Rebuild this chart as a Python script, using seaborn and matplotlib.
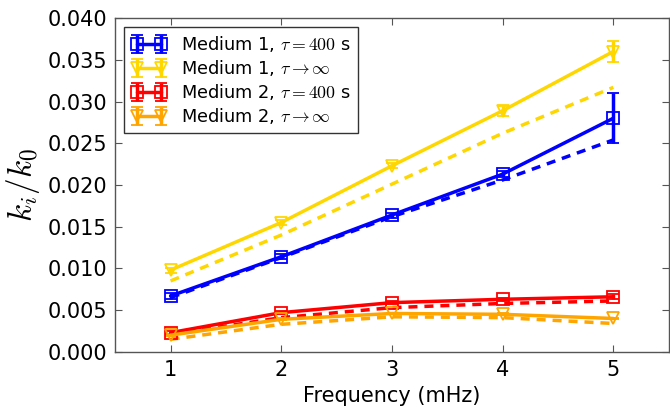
import numpy as np
import pandas as pd
import matplotlib
matplotlib.use("Agg")
import matplotlib.pyplot as plt
import seaborn as sns

freq = [1, 2, 3, 4, 5]
m1_400 = [0.0067, 0.0114, 0.0164, 0.0213, 0.0280]
m1_400_err = [0.0004, 0.0003, 0.0003, 0.0004, 0.0030]
m1_inf = [0.0098, 0.0155, 0.0223, 0.0289, 0.0360]
m1_inf_err = [0.0003, 0.0003, 0.0003, 0.0006, 0.0013]
m2_400 = [0.0023, 0.0047, 0.0059, 0.0063, 0.0066]
m2_400_err = [0.0002, 0.0002, 0.0002, 0.0002, 0.0003]
m2_inf = [0.0020, 0.0039, 0.0046, 0.0045, 0.0040]
m2_inf_err = [0.0001, 0.0001, 0.0001, 0.0001, 0.0001]

m1_400_fit = [0.0065, 0.0113, 0.0162, 0.0206, 0.0254]
m1_inf_fit = [0.0085, 0.0140, 0.0201, 0.0262, 0.0317]
m2_400_fit = [0.0021, 0.0041, 0.0053, 0.0058, 0.0061]
m2_inf_fit = [0.0015, 0.0033, 0.0042, 0.0041, 0.0034]

labels = [r"Medium 1, $\tau = 400$ s", r"Medium 1, $\tau \to \infty$",
          r"Medium 2, $\tau = 400$ s", r"Medium 2, $\tau \to \infty$"]
colors = ["#0000ff", "#ffd700", "#ff0000", "#ffa500"]
markers = ["s", "v", "s", "v"]

sns.set_style("ticks")
plt.rcParams["font.family"] = ["DejaVu Sans"]
plt.rcParams["mathtext.fontset"] = "cm"
plt.rcParams["text.color"] = "black"
plt.rcParams["axes.labelcolor"] = "black"
plt.rcParams["xtick.color"] = "black"
plt.rcParams["ytick.color"] = "black"

fig = plt.figure(figsize=(6.7, 4.12), dpi=100)
ax = fig.add_axes([0.172, 0.146, 0.826, 0.810])

series = [(m1_400, m1_400_err, m1_400_fit), (m1_inf, m1_inf_err, m1_inf_fit),
          (m2_400, m2_400_err, m2_400_fit), (m2_inf, m2_inf_err, m2_inf_fit)]

for (vals, errs, fit), lab, c, mk in zip(series, labels, colors, markers):
    ax.errorbar(freq, vals, yerr=errs, color=c, lw=2.5, marker=mk, ms=9,
                mfc="none", mec=c, mew=1.3, capsize=4, capthick=1.5,
                elinewidth=2.5, label=lab, zorder=3)
    df = pd.DataFrame({"f": freq, "v": fit})
    sns.lineplot(data=df, x="f", y="v", ax=ax, color=c, lw=2.5,
                 dashes=False, legend=False, zorder=2)
    ax.lines[-1].set_dashes((2.6, 2.0))

ax.set_xlim(0.5, 5.5)
ax.set_ylim(0, 0.04)
ax.set_xticks([1, 2, 3, 4, 5])
ax.set_yticks(np.arange(0, 0.0401, 0.005))
ax.set_yticklabels([f"{v:.3f}" for v in np.arange(0, 0.0401, 0.005)])
ax.tick_params(direction="in", top=True, right=True, labelsize=15,
               length=5, color="#555555", labelcolor="black", pad=6)
for s in ax.spines.values():
    s.set_color("#555555")
    s.set_linewidth(1.0)
ax.set_xlabel("Frequency (mHz)", fontsize=15, color="black")
ax.set_ylabel(r"$k_i/k_0$", fontsize=24, color="black")

leg = ax.legend(loc="upper left", fontsize=12.8, frameon=True, fancybox=False,
                edgecolor="black", handlelength=2.0, borderaxespad=0.5,
                labelspacing=0.22, numpoints=2, handletextpad=0.8)
leg.get_frame().set_linewidth(1.0)
for t in leg.get_texts():
    t.set_color("black")

fig.savefig("out.png", dpi=100)
